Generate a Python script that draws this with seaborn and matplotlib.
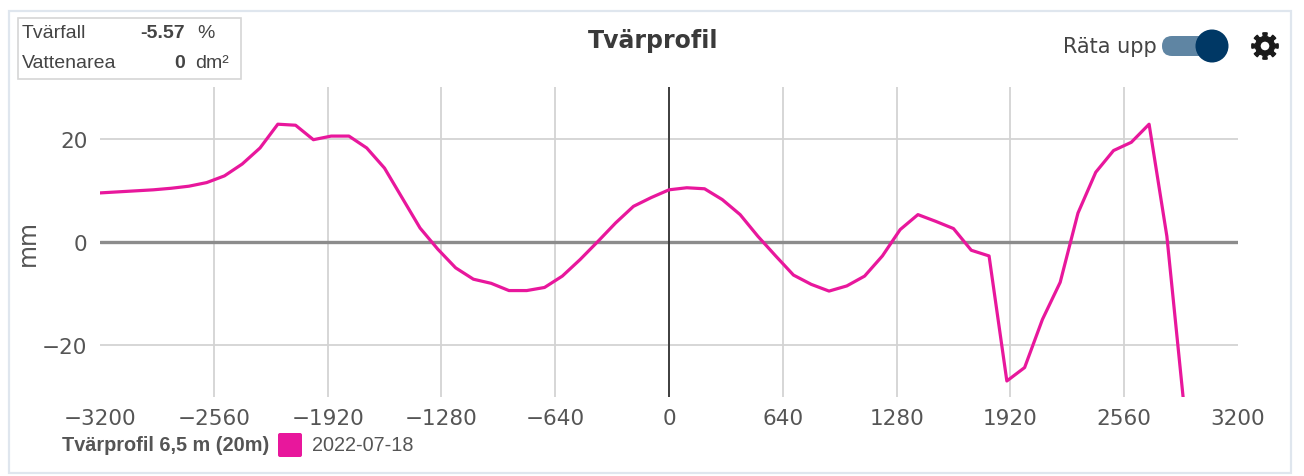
import numpy as np
import pandas as pd
import matplotlib.pyplot as plt
import seaborn as sns
from matplotlib.patches import Rectangle, FancyBboxPatch, Circle, Polygon

# profile data (position in mm across the road, height in mm)
positions = [-3200, -3100, -3000, -2900, -2800, -2700, -2600, -2500, -2400, -2300,
             -2200, -2100, -2000, -1900, -1800, -1700, -1600, -1500, -1400, -1300,
             -1200, -1100, -1000, -900, -800, -700, -600, -500, -400, -300,
             -200, -100, 0, 100, 200, 300, 400, 500, 600, 700,
             800, 900, 1000, 1100, 1200, 1300, 1400, 1500, 1600, 1700,
             1800, 1900, 2000, 2100, 2200, 2300, 2400, 2500, 2600, 2700,
             2800, 2900]
heights = [9.5, 9.7, 9.9, 10.1, 10.4, 10.8, 11.5, 12.8, 15.1, 18.2,
           22.8, 22.6, 19.8, 20.5, 20.5, 18.2, 14.3, 8.5, 2.7, -1.4,
           -5.0, -7.2, -8.0, -9.4, -9.4, -8.8, -6.6, -3.4, 0.1, 3.7,
           6.9, 8.6, 10.1, 10.5, 10.3, 8.2, 5.3, 1.1, -2.7, -6.4,
           -8.2, -9.5, -8.5, -6.6, -2.7, 2.4, 5.3, 4.0, 2.6, -1.6,
           -2.7, -26.9, -24.3, -15.0, -7.8, 5.6, 13.5, 17.7, 19.3, 22.8,
           1.1, -33.0]

x_ticks = [-3200, -2560, -1920, -1280, -640, 0, 640, 1280, 1920, 2560, 3200]
y_ticks = [-20, 0, 20]

series_name = "Tvärprofil 6,5 m (20m)"
series_date = "2022-07-18"
tvarfall = "-5.57"
vattenarea = "0"

line_color = "#e8179c"
text_gray = "#555555"

df = pd.DataFrame({"pos": positions, "mm": heights})

sns.set_style("white")
plt.rcParams['font.family'] = ['DejaVu Sans']

W, H = 1304, 477
fig = plt.figure(figsize=(W / 100, H / 100), dpi=100)

# overlay in pixel coordinates for the frame and the widgets
ov = fig.add_axes([0, 0, 1, 1], zorder=0)
ov.set_xlim(0, W)
ov.set_ylim(H, 0)
ov.axis("off")

ax = fig.add_axes([100 / W, 1 - 398 / H, 1138 / W, 310 / H], zorder=1)
ax.set_facecolor("none")

sns.lineplot(data=df, x="pos", y="mm", ax=ax, color=line_color, lw=2.3,
             legend=False, zorder=5)

ax.set_xlim(-3200, 3200)
ax.set_ylim(-30, 30)
ax.set_xticks(x_ticks)
ax.set_yticks(y_ticks)
ax.grid(True, color="#d3d3d3", lw=1.3)
xgl = ax.get_xgridlines()
xgl[0].set_visible(False)
xgl[-1].set_visible(False)
ax.axhline(0, color="#8c8c8c", lw=2.4, zorder=3)
ax.axvline(0, color="#333333", lw=1.3, zorder=4)
for s in ax.spines.values():
    s.set_visible(False)
ax.tick_params(axis="both", length=0, labelsize=15.5, labelcolor=text_gray)
ax.tick_params(axis="x", pad=8)
ax.tick_params(axis="y", pad=9)
ax.set_xlabel("")
ax.set_ylabel("mm", fontsize=17, color=text_gray)
ax.yaxis.set_label_coords(-0.053, 0.5)

# outer frame
ov.add_patch(Rectangle((9, 12), 1282, 462, fill=False, ec="#dfe6ee", lw=1.6))

# title
ov.text(653, 41, "Tvärprofil", ha="center", va="center", fontsize=17,
        fontweight="bold", color="#3a3a3a")

# info box top left
ov.add_patch(Rectangle((18, 19), 223, 61, fill=False, ec="#d6d6d6", lw=1.2))
info_font = dict(family="Liberation Sans", fontsize=14, color="#444444", va="center")
ov.text(22, 34, "Tvärfall", ha="left", **info_font)
ov.text(185, 34, tvarfall, ha="right", fontweight="bold", **info_font)
ov.text(197, 34, "%", ha="left", **info_font)
ov.text(22, 64, "Vattenarea", ha="left", **info_font)
ov.text(185, 64, vattenarea, ha="right", fontweight="bold", **info_font)
ov.text(195, 64, "dm²", ha="left", **info_font)

# toggle switch
ov.text(1157, 47, "Räta upp", ha="right", va="center", fontsize=15, color="#444444")
ov.add_patch(FancyBboxPatch((1162, 37), 50, 20, boxstyle="round,pad=0,rounding_size=10",
                            fc="#5f85a3", ec="none"))
ov.add_patch(Circle((1212, 47), 16.5, fc="#003865", ec="none"))

# settings cog (solid gear icon)
gx, gy = 1265, 47
ang = np.linspace(0, 2 * np.pi, 400, endpoint=False)
tooth = (np.cos(8 * ang) > 0.1).astype(float)
rad = 9.5 + 3.8 * tooth
ov.add_patch(Polygon(np.column_stack([gx + rad * np.cos(ang), gy + rad * np.sin(ang)]),
                     closed=True, fc="#1a1a1a", ec="#1a1a1a", lw=0.8))
ov.add_patch(Circle((gx, gy), 4.3, fc="white", ec="none"))

# legend at the bottom
leg_font = dict(family="Liberation Sans", fontsize=14.3, color=text_gray, va="center")
ov.text(269, 446, series_name, ha="right", fontweight="bold", **leg_font)
ov.add_patch(FancyBboxPatch((278, 434), 24, 24, boxstyle="round,pad=0,rounding_size=2",
                            fc=line_color, ec="none"))
ov.text(312, 446, series_date, ha="left", **leg_font)

fig.savefig("out.png", dpi=100)
